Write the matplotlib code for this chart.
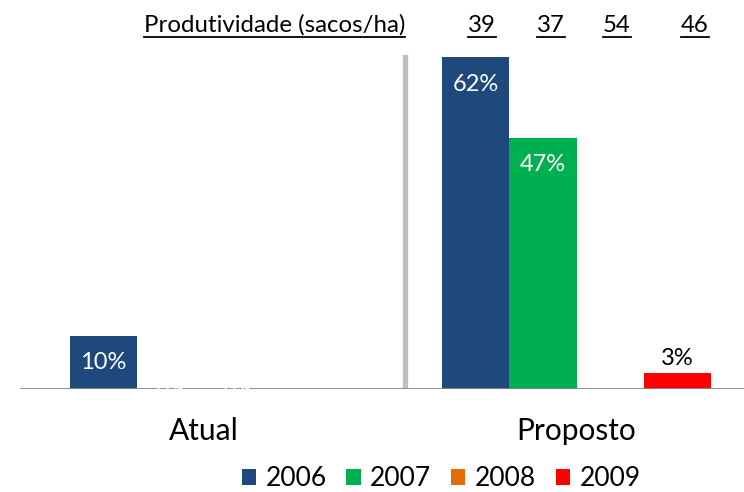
import numpy as np
import matplotlib
matplotlib.use("Agg")
import matplotlib.pyplot as plt
from matplotlib.patches import Patch
from matplotlib.lines import Line2D

categories = ["Atual", "Proposto"]
years = ["2006", "2007", "2008", "2009"]
values = {
    "2006": [10, 62],
    "2007": [0, 47],
    "2008": [0, np.nan],
    "2009": [np.nan, 3],
}
colors = {"2006": "#1F497D", "2007": "#00B050", "2008": "#E36C09", "2009": "#FF0000"}
productivity_label = "Produtividade (sacos/ha)"
productivity = ["39", "37", "54", "46"]

FONT = "Lato"
plt.rcParams["font.family"] = [FONT, "DejaVu Sans"]

W, H = 744, 492
fig = plt.figure(figsize=(W / 100, H / 100), dpi=100)

# axes placed in pixel terms: baseline at y=389, top at y=40, from x=20 to right edge
left_px, right_px, base_px, top_px = 20, 744, 389, 40
ax = fig.add_axes([left_px / W, (H - base_px) / H, (right_px - left_px) / W, (base_px - top_px) / H])
px_per_unit = 372.5
x0 = 0 - (204 - left_px) / px_per_unit
ax.set_xlim(x0, x0 + (right_px - left_px) / px_per_unit)
ax.set_ylim(0, (base_px - top_px) / 5.35)

x = np.arange(len(categories))
bw = 0.18
for i, yr in enumerate(years):
    vals = np.array(values[yr], dtype=float)
    pos = x + (i - 1.5) * bw
    ax.bar(pos, np.nan_to_num(vals), width=bw, color=colors[yr], zorder=2)
    for p, v in zip(pos, vals):
        if np.isnan(v):
            continue
        if v >= 8:
            ax.annotate(f"{v:.0f}%", (p, v), xytext=(0, -12), textcoords="offset points",
                        ha="center", va="top", color="white", fontsize=17, zorder=4)
        elif v > 0:
            ax.annotate(f"{v:.0f}%", (p, v), xytext=(0, 3), textcoords="offset points",
                        ha="center", va="bottom", color="black", fontsize=17, zorder=4)
        else:
            ax.annotate(f"{v:.0f}%", (p, v), xytext=(0, 0), textcoords="offset points",
                        ha="center", va="center", color="white", fontsize=15, zorder=4)

# divider between the two scenarios
ax.axvline(0.54, ymin=0, ymax=(base_px - 57) / (base_px - top_px), color="#BFBFBF", lw=3.8, zorder=1)
ax.axhline(0, color="#868686", lw=2, zorder=3)

for s in ax.spines.values():
    s.set_visible(False)
ax.set_yticks([])
ax.set_xticks(x)
ax.set_xticklabels(categories, fontsize=21.5)
ax.tick_params(axis="x", length=0, pad=20)

# header row with productivity values above the proposed bars
hdr_y = 1 - 25 / H
texts = [fig.text(274.5 / W, hdr_y, productivity_label, ha="center", va="center", fontsize=17.3)]
for xp, val in zip([482, 551, 617, 695], productivity):
    texts.append(fig.text(xp / W, hdr_y, val, ha="center", va="center", fontsize=17.3))

handles = [Patch(facecolor=colors[y], edgecolor="none") for y in years]
fig.legend(handles, years, loc="center", bbox_to_anchor=(441 / W, 1 - 479 / H), ncol=4,
           frameon=False, fontsize=19, handlelength=0.55, handleheight=0.55,
           handletextpad=0.35, columnspacing=0.75)

# underline the header texts
fig.canvas.draw()
r = fig.canvas.get_renderer()
for t in texts:
    bb = t.get_window_extent(r)
    yline = bb.y0 - 1
    fig.add_artist(Line2D([bb.x0 / W, bb.x1 / W], [yline / H, yline / H],
                          transform=fig.transFigure, color="black", lw=1.3))

fig.savefig("out.png", dpi=100)
